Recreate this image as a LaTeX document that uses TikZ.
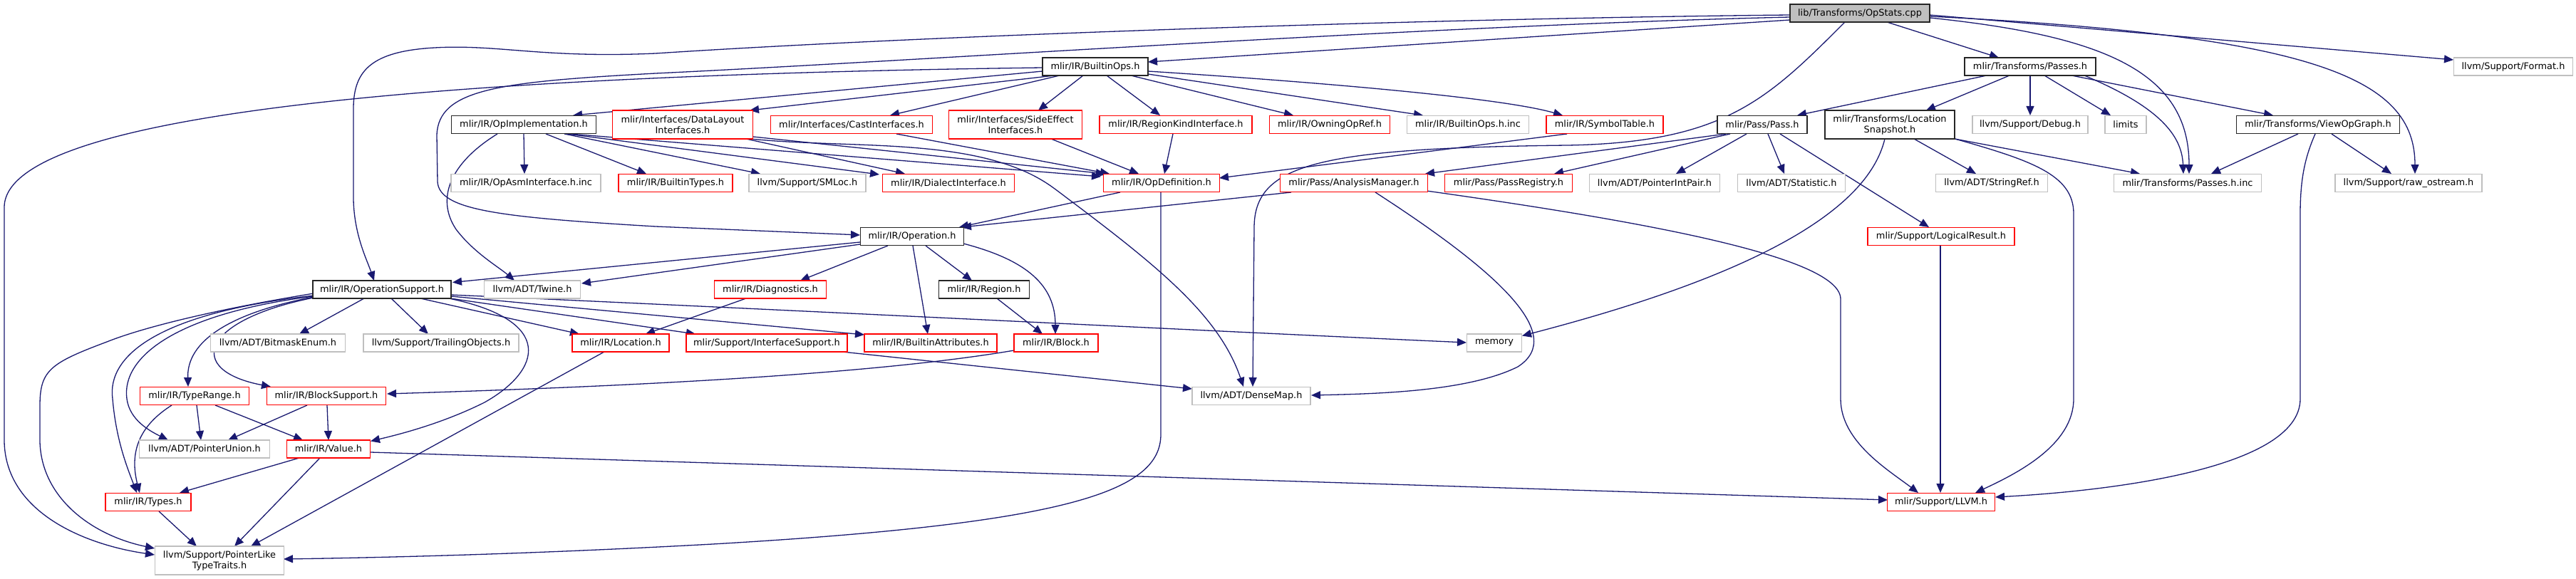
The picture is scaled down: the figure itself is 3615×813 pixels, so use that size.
\documentclass[tikz,border=0pt]{standalone}
\usepackage{fontspec}
\setmainfont{DejaVu Sans}
\usetikzlibrary{arrows.meta}
\definecolor{edgec}{RGB}{25,25,112}
\definecolor{grayb}{RGB}{191,191,191}
\newcommand\nodefont{\fontsize{6.45pt}{7.5pt}\selectfont}
\newcommand\mknode[6]{\node[#1, minimum width=#2*0.5pt] (#3) at (#4,#5) {#6};}
\pgfdeclarelayer{bg}
\pgfsetlayers{bg,main}
\tikzset{
  nbase/.style={rectangle, inner sep=0pt, minimum height=12.5pt, fill=white, font=\nodefont, align=center},
  kbox/.style={nbase, draw=black!85, line width=0.75pt},
  rbox/.style={nbase, draw=red, line width=0.6pt},
  gbox/.style={nbase, draw=grayb, line width=0.6pt},
  tall/.style={minimum height=20pt},
  conn/.style={draw=edgec, line width=0.65pt, -{Triangle[length=6.5pt,width=5.5pt]}}
}
\begin{document}
\begin{tikzpicture}[x=0.5pt,y=-0.5pt]
\useasboundingbox (0,0) rectangle (3615,813);
% row 0/1
\mknode{kbox,fill=grayb}{196}{ops}{2610}{18.5}{lib/Transforms/OpStats.cpp}
\mknode{kbox}{148}{bops}{1537}{93.5}{mlir/IR/BuiltinOps.h}
\mknode{kbox}{184}{tp}{2849}{93.5}{mlir/Transforms/Passes.h}
\mknode{gbox}{167}{fmt}{3527}{93.5}{llvm/Support/Format.h}
% row 2
\mknode{kbox}{203}{impl}{735}{175}{mlir/IR/OpImplementation.h}
\mknode{rbox,tall}{197}{dl}{958}{175}{mlir/Interfaces/DataLayout\\Interfaces.h}
\mknode{rbox}{227}{cast}{1195}{175}{mlir/Interfaces/CastInterfaces.h}
\mknode{rbox,tall}{187}{se}{1425}{175}{mlir/Interfaces/SideEffect\\Interfaces.h}
\mknode{rbox}{214}{rk}{1650}{175}{mlir/IR/RegionKindInterface.h}
\mknode{rbox}{169}{oor}{1866}{175}{mlir/IR/OwningOpRef.h}
\mknode{gbox}{171}{boinc}{2060}{175}{mlir/IR/BuiltinOps.h.inc}
\mknode{rbox}{164}{st}{2252}{175}{mlir/IR/SymbolTable.h}
\mknode{kbox}{126}{pass}{2473}{175}{mlir/Pass/Pass.h}
\mknode{kbox,tall}{182}{ls}{2652}{175}{mlir/Transforms/Location\\Snapshot.h}
\mknode{gbox}{162}{dbg}{2849}{175}{llvm/Support/Debug.h}
\mknode{gbox}{58}{lim}{2983}{175}{limits}
\mknode{kbox}{229}{vog}{3253}{175}{mlir/Transforms/ViewOpGraph.h}
% row 3
\mknode{gbox}{210}{asmi}{738}{257}{mlir/IR/OpAsmInterface.h.inc}
\mknode{rbox}{160}{bt}{948}{257}{mlir/IR/BuiltinTypes.h}
\mknode{gbox}{164}{sml}{1133}{257}{llvm/Support/SMLoc.h}
\mknode{rbox}{185}{di}{1331}{257}{mlir/IR/DialectInterface.h}
\mknode{rbox}{163}{od}{1630}{257}{mlir/IR/OpDefinition.h}
\mknode{rbox}{207}{am}{1900}{257}{mlir/Pass/AnalysisManager.h}
\mknode{rbox}{179}{pr}{2117}{257}{mlir/Pass/PassRegistry.h}
\mknode{gbox}{183}{pip}{2322}{257}{llvm/ADT/PointerIntPair.h}
\mknode{gbox}{151}{stat}{2514}{257}{llvm/ADT/Statistic.h}
\mknode{gbox}{157}{sr}{2795}{257}{llvm/ADT/StringRef.h}
\mknode{gbox}{207}{tpinc}{3070}{257}{mlir/Transforms/Passes.h.inc}
\mknode{gbox}{206}{ros}{3380}{257}{llvm/Support/raw\_ostream.h}
% row 4
\mknode{kbox}{145}{oper}{1280}{332}{mlir/IR/Operation.h}
\mknode{rbox}{206}{lr}{2724}{332}{mlir/Support/LogicalResult.h}
% row 5
\mknode{kbox}{194}{os}{536}{406.5}{mlir/IR/OperationSupport.h}
\mknode{gbox}{135}{tw}{747}{406.5}{llvm/ADT/Twine.h}
\mknode{rbox}{157}{dg}{1081}{406.5}{mlir/IR/Diagnostics.h}
\mknode{kbox}{127}{rg}{1381}{406.5}{mlir/IR/Region.h}
% row 6
\mknode{gbox}{189}{bme}{390}{481.5}{llvm/ADT/BitmaskEnum.h}
\mknode{gbox}{218}{tobj}{619}{481.5}{llvm/Support/TrailingObjects.h}
\mknode{rbox}{136}{loc}{871}{481.5}{mlir/IR/Location.h}
\mknode{rbox}{226}{isup}{1076}{481.5}{mlir/Support/InterfaceSupport.h}
\mknode{rbox}{186}{ba}{1306}{481.5}{mlir/IR/BuiltinAttributes.h}
\mknode{rbox}{118}{blk}{1482}{481.5}{mlir/IR/Block.h}
\mknode{gbox}{77}{mem}{2097}{481.5}{memory}
% row 7
\mknode{rbox}{153}{tr}{273}{556}{mlir/IR/TypeRange.h}
\mknode{rbox}{167}{bs}{458}{556}{mlir/IR/BlockSupport.h}
\mknode{gbox}{166}{dm}{1756}{556}{llvm/ADT/DenseMap.h}
% row 8
\mknode{gbox}{183}{pu}{287}{630.5}{llvm/ADT/PointerUnion.h}
\mknode{rbox}{117}{val}{461}{630.5}{mlir/IR/Value.h}
% row 9
\mknode{rbox}{120}{ty}{208}{705}{mlir/IR/Types.h}
\mknode{rbox}{151}{llvm}{2724}{705}{mlir/Support/LLVM.h}
% row 10
\mknode{gbox,tall}{181}{plt}{308}{787}{llvm/Support/PointerLike\\TypeTraits.h}

\begin{pgfonlayer}{bg}
% OpStats
\draw[conn] ([shift={(-98,9.5)}]ops.center) -- ([shift={(74,-6.5)}]bops.center);
\draw[conn] ([shift={(-98,2.5)}]ops.center) .. controls (2000,26) and (1300,50) .. (920,75) .. controls (760,82) and (700,62) .. (610,67) .. controls (520,72) and (497,100) .. (496,150) -- (496,280) .. controls (497,330) and (515,365) .. ([shift={(-11,-12.5)}]os.center);
\draw[conn] ([shift={(-98,5.5)}]ops.center) .. controls (2000,36) and (1300,85) .. (920,103) .. controls (700,115) and (615,125) .. (613,190) -- (614,255) .. controls (616,295) and (700,305) .. (920,318) -- ([shift={(-73,-2)}]oper.center);
\draw[conn] ([shift={(-21,12.5)}]ops.center) .. controls (2480,140) and (2420,200) .. (2200,204) .. controls (1850,208) and (1760,230) .. (1760,320) -- ([shift={(2,-13)}]dm.center);
\draw[conn] ([shift={(38,12.5)}]ops.center) -- ([shift={(-44,-12.5)}]tp.center);
\draw[conn] ([shift={(98,6.5)}]ops.center) .. controls (2950,50) and (3072,100) .. ([shift={(2,-13)}]tpinc.center);
\draw[conn] ([shift={(98,4.5)}]ops.center) .. controls (3250,50) and (3389,110) .. ([shift={(9,-13)}]ros.center);
\draw[conn] ([shift={(98,2.5)}]ops.center) -- ([shift={(-84,-9.5)}]fmt.center);
% BuiltinOps
\draw[conn] ([shift={(-74,1.5)}]bops.center) .. controls (700,105) and (10,150) .. (6,290) -- (6,620) .. controls (8,720) and (120,765) .. ([shift={(-91,-8)}]plt.center);
\draw[conn] ([shift={(-74,6.5)}]bops.center) -- ([shift={(69,-13)}]impl.center);
\draw[conn] ([shift={(-57,12.5)}]bops.center) -- ([shift={(94,-20)}]dl.center);
\draw[conn] ([shift={(-50,12.5)}]bops.center) -- ([shift={(54,-13)}]cast.center);
\draw[conn] ([shift={(-17,12.5)}]bops.center) -- ([shift={(32,-20)}]se.center);
\draw[conn] ([shift={(16,12.5)}]bops.center) -- ([shift={(-22,-13)}]rk.center);
\draw[conn] ([shift={(50,12.5)}]bops.center) -- ([shift={(-51,-13)}]oor.center);
\draw[conn] ([shift={(74,10.5)}]bops.center) -- ([shift={(-63,-13)}]boinc.center);
\draw[conn] ([shift={(74,6.5)}]bops.center) .. controls (1800,112) and (2100,135) .. ([shift={(-59,-13)}]st.center);
% OpImplementation
\draw[conn] ([shift={(0,13)}]impl.center) -- ([shift={(-2,-13)}]asmi.center);
\draw[conn] ([shift={(31,13)}]impl.center) -- ([shift={(-41,-13)}]bt.center);
\draw[conn] ([shift={(-37,13)}]impl.center) .. controls (630,230) and (612,280) .. (640,322) .. controls (665,355) and (700,375) .. ([shift={(-25,-12.5)}]tw.center);
\draw[conn] ([shift={(57,13)}]impl.center) -- ([shift={(-66,-13)}]sml.center);
\draw[conn] ([shift={(61,13)}]impl.center) -- ([shift={(-97,-12)}]di.center);
\draw[conn] ([shift={(65,13)}]impl.center) -- ([shift={(-85,-9)}]od.center);
% DataLayout, Cast, SideEffect, RegionKind, SymbolTable
\draw[conn] ([shift={(89,20)}]dl.center) -- ([shift={(-61,-13)}]di.center);
\draw[conn] ([shift={(99,17)}]dl.center) -- ([shift={(-79,-13)}]od.center);
\draw[conn] ([shift={(95,20)}]dl.center) .. controls (1200,210) and (1380,190) .. (1480,265) .. controls (1620,370) and (1710,440) .. ([shift={(-11,-13)}]dm.center);
\draw[conn] ([shift={(63,13)}]cast.center) -- ([shift={(-73,-13)}]od.center);
\draw[conn] ([shift={(50,20)}]se.center) -- ([shift={(-32,-13)}]od.center);
\draw[conn] ([shift={(-4,13)}]rk.center) -- ([shift={(4,-13)}]od.center);
\draw[conn] ([shift={(-53,13)}]st.center) -- ([shift={(81,-7)}]od.center);
% OpDefinition
\draw[conn] ([shift={(-58,13)}]od.center) -- ([shift={(66,-13)}]oper.center);
\draw[conn] ([shift={(-1,13)}]od.center) -- (1629,610) .. controls (1629,690) and (1500,735) .. (1000,764) .. controls (800,775) and (600,782) .. ([shift={(90,-2)}]plt.center);
% AnalysisManager
\draw[conn] ([shift={(-88,13)}]am.center) -- ([shift={(70,-13)}]oper.center);
\draw[conn] ([shift={(30,13)}]am.center) .. controls (2100,380) and (2200,470) .. (2130,515) .. controls (2060,550) and (1930,553) .. ([shift={(84,-1)}]dm.center);
\draw[conn] ([shift={(102,11)}]am.center) .. controls (2300,310) and (2583,360) .. (2583,420) -- (2583,560) .. controls (2583,620) and (2650,660) .. ([shift={(-32,-13)}]llvm.center);
% Pass
\draw[conn] ([shift={(-51,13)}]pass.center) -- ([shift={(100,-13)}]am.center);
\draw[conn] ([shift={(-45,13)}]pass.center) -- ([shift={(64,-13)}]pr.center);
\draw[conn] ([shift={(-22,13)}]pass.center) -- ([shift={(30,-13)}]pip.center);
\draw[conn] ([shift={(8,13)}]pass.center) -- ([shift={(-10,-13)}]stat.center);
\draw[conn] ([shift={(25,13)}]pass.center) -- ([shift={(-17,-13)}]lr.center);
% LocationSnapshot
\draw[conn] ([shift={(-7,20)}]ls.center) .. controls (2620,300) and (2450,390) .. ([shift={(39,-10)}]mem.center);
\draw[conn] ([shift={(34,20)}]ls.center) -- ([shift={(-22,-13)}]sr.center);
\draw[conn] ([shift={(91,20)}]ls.center) -- ([shift={(-67,-13)}]tpinc.center);
\draw[conn] ([shift={(88,19)}]ls.center) .. controls (2850,225) and (2910,245) .. (2910,300) -- (2910,560) .. controls (2910,625) and (2830,665) .. ([shift={(48,-13)}]llvm.center);
% Transforms/Passes
\draw[conn] ([shift={(-61,12.5)}]tp.center) -- ([shift={(49,-13)}]pass.center);
\draw[conn] ([shift={(-29,12.5)}]tp.center) -- ([shift={(51,-20)}]ls.center);
\draw[conn] ([shift={(0,12.5)}]tp.center) -- ([shift={(0,-13)}]dbg.center);
\draw[conn] ([shift={(20,12.5)}]tp.center) -- ([shift={(-21,-13)}]lim.center);
\draw[conn] ([shift={(76,12.5)}]tp.center) .. controls (3030,150) and (3062,190) .. ([shift={(-6,-13)}]tpinc.center);
\draw[conn] ([shift={(58,12.5)}]tp.center) -- ([shift={(-63,-13)}]vog.center);
% ViewOpGraph
\draw[conn] ([shift={(-28,13)}]vog.center) -- ([shift={(33,-13)}]tpinc.center);
\draw[conn] ([shift={(19,13)}]vog.center) -- ([shift={(-24,-13)}]ros.center);
\draw[conn] ([shift={(-4,13)}]vog.center) .. controls (3235,220) and (3228,250) .. (3228,300) -- (3228,560) .. controls (3228,660) and (2950,690) .. ([shift={(76,-7)}]llvm.center);
% LogicalResult
\draw[conn] ([shift={(-1,13)}]lr.center) -- ([shift={(-1,-13)}]llvm.center);
% Operation
\draw[conn] ([shift={(-34,13)}]oper.center) -- ([shift={(42,-12.5)}]dg.center);
\draw[conn] ([shift={(1,13)}]oper.center) -- ([shift={(-4,-12.5)}]ba.center);
\draw[conn] ([shift={(19,13)}]oper.center) -- ([shift={(-17,-12.5)}]rg.center);
\draw[conn] ([shift={(72,10)}]oper.center) .. controls (1440,365) and (1481,400) .. ([shift={(-1,-12.5)}]blk.center);
\draw[conn] ([shift={(-73,8)}]oper.center) -- ([shift={(99,-10)}]os.center);
\draw[conn] ([shift={(-73,11)}]oper.center) -- ([shift={(69,-8.5)}]tw.center);
% Region, Diagnostics, Location, Block, InterfaceSupport
\draw[conn] ([shift={(18,12.5)}]rg.center) -- ([shift={(-19,-12.5)}]blk.center);
\draw[conn] ([shift={(-34,12.5)}]dg.center) -- ([shift={(35,-12.5)}]loc.center);
\draw[conn] ([shift={(-23,12.5)}]loc.center) -- ([shift={(44,-20)}]plt.center);
\draw[conn] ([shift={(-59,10.5)}]blk.center) .. controls (1200,530) and (800,545) .. ([shift={(85,-3)}]bs.center);
\draw[conn] ([shift={(106,12.5)}]isup.center) -- ([shift={(-83,-10)}]dm.center);
% OperationSupport
\draw[conn] ([shift={(-25,12.5)}]os.center) -- ([shift={(30,-12.5)}]bme.center);
\draw[conn] ([shift={(13,12.5)}]os.center) -- ([shift={(-18,-12.5)}]tobj.center);
\draw[conn] ([shift={(54,12.5)}]os.center) -- ([shift={(-58,-12.5)}]loc.center);
\draw[conn] ([shift={(89,11.5)}]os.center) -- ([shift={(-100,-12.5)}]isup.center);
\draw[conn] ([shift={(97,9.5)}]os.center) -- ([shift={(-93,-11.5)}]ba.center);
\draw[conn] ([shift={(97,7.5)}]os.center) .. controls (1000,430) and (1700,465) .. ([shift={(-39,-0.5)}]mem.center);
\draw[conn] ([shift={(94,12.5)}]os.center) .. controls (780,450) and (760,520) .. (680,565) .. controls (620,595) and (560,610) .. ([shift={(59,-11)}]val.center);
\draw[conn] ([shift={(-96,10.5)}]os.center) .. controls (320,440) and (262,480) .. ([shift={(-9,-13)}]tr.center);
\draw[conn] ([shift={(-96,11.5)}]os.center) .. controls (280,450) and (260,520) .. ([shift={(-78,-13)}]bs.center);
\draw[conn] ([shift={(-96,9.5)}]os.center) .. controls (250,440) and (170,500) .. (178,560) .. controls (182,590) and (210,605) .. ([shift={(-51,-12.5)}]pu.center);
\draw[conn] ([shift={(-96,8.5)}]os.center) .. controls (220,440) and (150,500) .. (158,560) .. controls (163,620) and (180,660) .. ([shift={(-16,-13)}]ty.center);
\draw[conn] ([shift={(-96,5.5)}]os.center) .. controls (300,435) and (200,460) .. (150,480) .. controls (70,510) and (56,520) .. (56,570) -- (56,620) .. controls (58,700) and (130,752) .. ([shift={(-91,-17)}]plt.center);
% TypeRange, BlockSupport, Value, Types
\draw[conn] ([shift={(3,13)}]tr.center) -- ([shift={(-5,-12.5)}]pu.center);
\draw[conn] ([shift={(29,13)}]tr.center) -- ([shift={(-36,-12.5)}]val.center);
\draw[conn] ([shift={(-32,13)}]tr.center) .. controls (200,595) and (180,630) .. ([shift={(-12,-13)}]ty.center);
\draw[conn] ([shift={(-27,13)}]bs.center) -- ([shift={(33,-12.5)}]pu.center);
\draw[conn] ([shift={(1,13)}]bs.center) -- ([shift={(0,-12.5)}]val.center);
\draw[conn] ([shift={(-41,12.5)}]val.center) -- ([shift={(44,-13)}]ty.center);
\draw[conn] ([shift={(-12,12.5)}]val.center) -- ([shift={(21,-20)}]plt.center);
\draw[conn] ([shift={(59,4.5)}]val.center) -- ([shift={(-75,-3)}]llvm.center);
\draw[conn] ([shift={(15,13)}]ty.center) -- ([shift={(-32,-20)}]plt.center);
\end{pgfonlayer}
\end{tikzpicture}
\end{document}
